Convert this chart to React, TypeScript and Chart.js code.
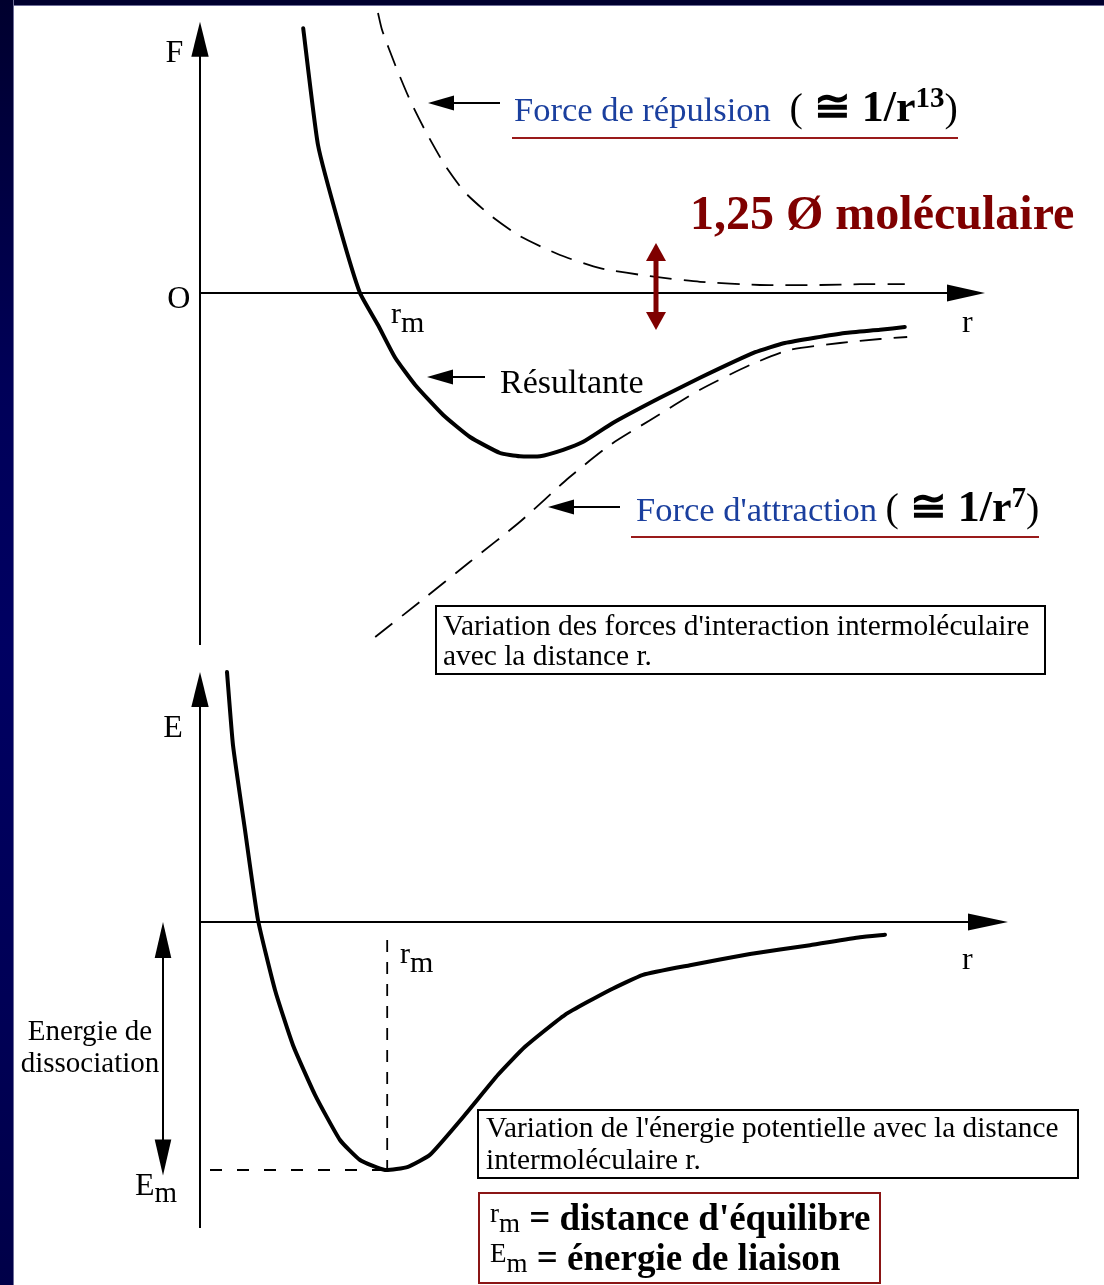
import React, { useEffect, useRef } from "react";
import { Chart, registerables } from "chart.js";

Chart.register(...registerables);

// ---------- Data (r in arbitrary units, F / E in arbitrary units) ----------
// Upper diagram: forces
const resultanteR = [1.29, 1.475, 1.75, 2.0, 2.225, 2.44, 2.69, 3.04, 3.375, 3.75, 4.0, 4.25, 4.54, 4.79, 5.16, 5.75, 6.25, 6.94, 7.31, 8.06, 8.5, 8.81];
const resultanteF = [3.31, 1.85, 0.81, 0, -0.4, -0.81, -1.15, -1.525, -1.8, -2.0, -2.04, -2.04, -1.96, -1.86, -1.625, -1.31, -1.06, -0.74, -0.625, -0.5, -0.46, -0.425];

const repulsionR = [2.225, 2.275, 2.44, 2.625, 2.81, 3.06, 3.31, 3.625, 4.0, 4.5, 5.0, 5.625, 6.25, 7.0, 7.75, 8.25, 8.81];
const repulsionF = [3.5, 3.29, 2.85, 2.41, 2.04, 1.6, 1.26, 0.975, 0.71, 0.475, 0.31, 0.21, 0.14, 0.1, 0.1, 0.11, 0.11];

const attractionR = [2.19, 2.75, 3.375, 4.0, 4.61, 5.125, 5.625, 6.25, 6.875, 7.375, 8.0, 8.5, 8.84];
const attractionF = [-4.3, -3.86, -3.36, -2.86, -2.31, -1.9, -1.59, -1.21, -0.9, -0.71, -0.625, -0.575, -0.55];

// Lower diagram: potential energy
const energyR = [0.3375, 0.4125, 0.5625, 0.725, 0.9375, 1.1625, 1.4375, 1.75, 2.0, 2.3125, 2.6, 2.875, 3.3125, 3.725, 4.0625, 4.5625, 5.125, 5.5375, 6.125, 6.875, 7.625, 8.25, 8.5625];
const energyE = [3.125, 2.21, 1.15, 0.025, -0.85, -1.54, -2.16, -2.725, -2.975, -3.1, -3.06, -2.91, -2.41, -1.91, -1.56, -1.16, -0.85, -0.66, -0.54, -0.4, -0.29, -0.19, -0.16];

const rmEnergy = 2.34;
const Em = -3.1;

// Axis ranges
const rRange = [0, 10];
const forceRange = [-4.5, 3.5];
const energyRange = [-3.85, 3.15];

// ---------- Text ----------
const SERIF = "'Liberation Serif', 'Times New Roman', serif";
const font = (size: number, bold = false) => `${bold ? "bold " : ""}${size}px ${SERIF}`;
const BLUE = "#1a3f9e";
const DARKRED = "#7f0000";
const LINERED = "#991a1a";

type Run = { t: string; font: string; dy?: number; color?: string };

function drawRuns(ctx: CanvasRenderingContext2D, x: number, y: number, runs: Run[]) {
  let cx = x;
  ctx.textAlign = "left";
  ctx.textBaseline = "alphabetic";
  for (const r of runs) {
    ctx.font = r.font;
    ctx.fillStyle = r.color || "#000";
    ctx.fillText(r.t, cx, y + (r.dy || 0));
    cx += ctx.measureText(r.t).width;
  }
}

function head(ctx: CanvasRenderingContext2D, tx: number, ty: number, fx: number, fy: number, len: number, half: number) {
  const dx = tx - fx, dy = ty - fy;
  const d = Math.hypot(dx, dy) || 1;
  const ux = dx / d, uy = dy / d;
  const bx = tx - ux * len, by = ty - uy * len;
  ctx.beginPath();
  ctx.moveTo(tx, ty);
  ctx.lineTo(bx - uy * half, by + ux * half);
  ctx.lineTo(bx + uy * half, by - ux * half);
  ctx.closePath();
  ctx.fill();
}

function arrow(
  ctx: CanvasRenderingContext2D, x1: number, y1: number, x2: number, y2: number,
  o: { w: number; color: string; len: number; half: number; both?: boolean }
) {
  ctx.strokeStyle = o.color;
  ctx.fillStyle = o.color;
  ctx.lineWidth = o.w;
  ctx.setLineDash([]);
  const d = Math.hypot(x2 - x1, y2 - y1) || 1;
  const ux = (x2 - x1) / d, uy = (y2 - y1) / d;
  const sx = o.both ? x1 + ux * o.len * 0.8 : x1;
  const sy = o.both ? y1 + uy * o.len * 0.8 : y1;
  ctx.beginPath();
  ctx.moveTo(sx, sy);
  ctx.lineTo(x2 - ux * o.len * 0.8, y2 - uy * o.len * 0.8);
  ctx.stroke();
  head(ctx, x2, y2, x1, y1, o.len, o.half);
  if (o.both) head(ctx, x1, y1, x2, y2, o.len, o.half);
}

function dashed(ctx: CanvasRenderingContext2D, x1: number, y1: number, x2: number, y2: number, dash: number[]) {
  ctx.strokeStyle = "#000";
  ctx.lineWidth = 1.8;
  ctx.setLineDash(dash);
  ctx.beginPath();
  ctx.moveTo(x1, y1);
  ctx.lineTo(x2, y2);
  ctx.stroke();
  ctx.setLineDash([]);
}

function box(ctx: CanvasRenderingContext2D, x1: number, y1: number, x2: number, y2: number, color: string, w: number) {
  ctx.strokeStyle = color;
  ctx.lineWidth = w;
  ctx.setLineDash([]);
  ctx.strokeRect(x1, y1, x2 - x1, y2 - y1);
}

function hline(ctx: CanvasRenderingContext2D, x1: number, x2: number, y: number, color: string, w: number) {
  ctx.strokeStyle = color;
  ctx.lineWidth = w;
  ctx.setLineDash([]);
  ctx.beginPath();
  ctx.moveTo(x1, y);
  ctx.lineTo(x2, y);
  ctx.stroke();
}

const AX = { w: 2, color: "#000", len: 35, half: 8.7 };
const LBL = { w: 2, color: "#000", len: 26, half: 7.5 };

// ---------- Plugins (annotations placed in data coordinates) ----------
const forceDecor = {
  id: "forceDecor",
  afterDraw(chart: any) {
    const ctx: CanvasRenderingContext2D = chart.ctx;
    const X = (v: number) => chart.scales.x.getPixelForValue(v);
    const Y = (v: number) => chart.scales.y.getPixelForValue(v);
    ctx.save();
    // axes
    arrow(ctx, X(0), Y(-4.4), X(0), Y(3.39), AX);
    arrow(ctx, X(0), Y(0), X(9.8125), Y(0), { ...AX, len: 38, half: 8.5 });
    drawRuns(ctx, X(-0.43), Y(2.8875), [{ t: "F", font: font(32) }]);
    drawRuns(ctx, X(-0.41), Y(-0.1875), [{ t: "O", font: font(32) }]);
    drawRuns(ctx, X(9.525), Y(-0.4875), [{ t: "r", font: font(32) }]);
    drawRuns(ctx, X(2.3875), Y(-0.375), [
      { t: "r", font: font(30) },
      { t: "m", font: font(30), dy: 9 },
    ]);

    // repulsion label
    arrow(ctx, X(3.75), Y(2.375), X(2.85), Y(2.375), LBL);
    drawRuns(ctx, X(3.925), Y(2.15), [
      { t: "Force de répulsion ", font: font(34.5), color: BLUE },
      { t: " (", font: font(40) },
      { t: " ≅ 1/r", font: font(44, true) },
      { t: "13", font: font(29, true), dy: -14 },
      { t: ")", font: font(40) },
    ]);
    hline(ctx, X(3.9), X(9.475), Y(1.9375), LINERED, 2);

    // 1,25 Ø moléculaire
    drawRuns(ctx, X(6.125), Y(0.8), [{ t: "1,25 Ø moléculaire", font: font(48, true), color: DARKRED }]);
    arrow(ctx, X(5.7), Y(0.625), X(5.7), Y(-0.4625), { w: 5, color: DARKRED, len: 18, half: 10, both: true });

    // Résultante
    arrow(ctx, X(3.5625), Y(-1.05), X(2.8375), Y(-1.05), LBL);
    drawRuns(ctx, X(3.75), Y(-1.25), [{ t: "Résultante", font: font(34) }]);

    // attraction label
    arrow(ctx, X(5.25), Y(-2.675), X(4.35), Y(-2.675), LBL);
    drawRuns(ctx, X(5.45), Y(-2.85), [
      { t: "Force d'attraction ", font: font(34.5), color: BLUE },
      { t: "(", font: font(40) },
      { t: " ≅ 1/r", font: font(44, true) },
      { t: "7", font: font(29, true), dy: -14 },
      { t: ")", font: font(40) },
    ]);
    hline(ctx, X(5.3875), X(10.4875), Y(-3.05), LINERED, 2);

    // caption box
    box(ctx, X(2.95), Y(-3.9125), X(10.5625), Y(-4.7625), "#000", 2);
    drawRuns(ctx, X(3.0375), Y(-4.275), [{ t: "Variation des forces d'interaction intermoléculaire", font: font(29.4) }]);
    drawRuns(ctx, X(3.0375), Y(-4.65), [{ t: "avec la distance r.", font: font(29.4) }]);
    ctx.restore();
  },
};

const energyDecor = {
  id: "energyDecor",
  afterDraw(chart: any) {
    const ctx: CanvasRenderingContext2D = chart.ctx;
    const X = (v: number) => chart.scales.x.getPixelForValue(v);
    const Y = (v: number) => chart.scales.y.getPixelForValue(v);
    ctx.save();
    arrow(ctx, X(0), Y(-3.825), X(0), Y(3.125), AX);
    arrow(ctx, X(0), Y(0), X(10.1), Y(0), { ...AX, len: 40, half: 8.5 });
    drawRuns(ctx, X(-0.46), Y(2.3125), [{ t: "E", font: font(32) }]);
    drawRuns(ctx, X(9.525), Y(-0.5875), [{ t: "r", font: font(32) }]);
    drawRuns(ctx, X(2.5), Y(-0.5125), [
      { t: "r", font: font(30) },
      { t: "m", font: font(30), dy: 9 },
    ]);

    // equilibrium guides
    dashed(ctx, X(rmEnergy), Y(-0.225), X(rmEnergy), Y(Em), [12, 10]);
    dashed(ctx, X(0.125), Y(Em), X(rmEnergy), Y(Em), [12, 15]);

    // dissociation energy
    arrow(ctx, X(-0.4625), Y(Em - 0.07), X(-0.4625), Y(0), { w: 2, color: "#000", len: 36, half: 8.3, both: true });
    ctx.font = font(29);
    ctx.fillStyle = "#000";
    ctx.textAlign = "center";
    ctx.fillText("Energie de", X(-1.375), Y(-1.475));
    ctx.fillText("dissociation", X(-1.375), Y(-1.875));
    drawRuns(ctx, X(-0.8125), Y(-3.41), [
      { t: "E", font: font(32) },
      { t: "m", font: font(29), dy: 7 },
    ]);

    // caption box
    box(ctx, X(3.475), Y(-2.35), X(10.975), Y(-3.2), "#000", 2);
    drawRuns(ctx, X(3.575), Y(-2.6875), [{ t: "Variation de l'énergie potentielle avec la distance", font: font(29.3) }]);
    drawRuns(ctx, X(3.575), Y(-3.0875), [{ t: "intermoléculaire r.", font: font(29.3) }]);

    // legend box
    box(ctx, X(3.4875), Y(-3.3875), X(8.5), Y(-4.5125), "#8a1515", 2);
    drawRuns(ctx, X(3.625), Y(-3.85), [
      { t: "r", font: font(27), dy: -8 },
      { t: "m", font: font(27), dy: 2 },
      { t: " = distance d'équilibre", font: font(37, true) },
    ]);
    drawRuns(ctx, X(3.625), Y(-4.35), [
      { t: "E", font: font(27), dy: -8 },
      { t: "m", font: font(27), dy: 2 },
      { t: " = énergie de liaison", font: font(37, true) },
    ]);
    ctx.restore();
  },
};

// ---------- Chart configs ----------
const pts = (xs: number[], ys: number[]) => xs.map((x, i) => ({ x, y: ys[i] }));

function config(datasets: any[], yRange: number[], padding: any, plugin: any) {
  return {
    type: "line",
    data: { datasets },
    options: {
      animation: false,
      responsive: false,
      maintainAspectRatio: false,
      events: [],
      layout: { padding },
      plugins: { legend: { display: false }, tooltip: { enabled: false } },
      scales: {
        x: { type: "linear", min: rRange[0], max: rRange[1], display: false },
        y: { type: "linear", min: yRange[0], max: yRange[1], display: false },
      },
    },
    plugins: [plugin],
  } as any;
}

const solid = (label: string, data: any[]) => ({
  label, data, borderColor: "#000", borderWidth: 4, pointRadius: 0, tension: 0.15,
  fill: false, clip: false, borderCapStyle: "round", borderJoinStyle: "round",
});
const dash = (label: string, data: any[]) => ({
  label, data, borderColor: "#000", borderWidth: 1.8, borderDash: [22, 12], pointRadius: 0,
  tension: 0.2, fill: false, clip: false,
});

function ChartCanvas({ build, top, height }: { build: () => any; top: number; height: number }) {
  const ref = useRef<HTMLCanvasElement>(null);
  useEffect(() => {
    const c = new Chart(ref.current as HTMLCanvasElement, build());
    return () => c.destroy();
  }, []);
  return (
    <canvas
      ref={ref}
      width={1104}
      height={height}
      style={{ position: "absolute", left: 0, top, width: 1104, height }}
    />
  );
}

export default function App() {
  const buildForce = () =>
    config(
      [
        solid("Résultante", pts(resultanteR, resultanteF)),
        dash("Force de répulsion", pts(repulsionR, repulsionF)),
        dash("Force d'attraction", pts(attractionR, attractionF)),
      ],
      forceRange,
      { left: 200, right: 104, top: 13, bottom: 37 },
      forceDecor
    );
  const buildEnergy = () =>
    config(
      [solid("Energie potentielle", pts(energyR, energyE))],
      energyRange,
      { left: 200, right: 104, top: 20, bottom: 55 },
      energyDecor
    );
  return (
    <div style={{ position: "absolute", left: 0, top: 0, width: 1104, height: 1285, background: "#fff", overflow: "hidden" }}>
      <div style={{ position: "absolute", left: 0, top: 0, width: 1104, height: 5, background: "#00002e", borderBottom: "1px solid #6e6e98" }} />
      <div
        style={{
          position: "absolute", left: 0, top: 0, width: 13, height: 1285,
          background: "linear-gradient(to bottom, #00002e 0%, #000058 30%, #000062 50%, #000055 80%, #000048 100%)",
          borderRight: "1px solid #6e6e98",
        }}
      />
      <ChartCanvas build={buildForce} top={0} height={690} />
      <ChartCanvas build={buildEnergy} top={650} height={635} />
    </div>
  );
}
